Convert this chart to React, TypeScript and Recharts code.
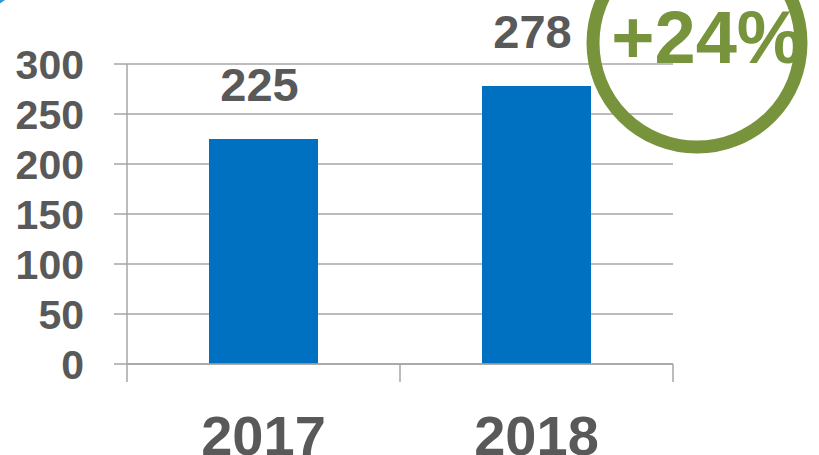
import { BarChart, Bar, XAxis, YAxis, CartesianGrid, LabelList } from "recharts";

const years = ["2017", "2018"];
const values = [225, 278];
const yTicks = [0, 50, 100, 150, 200, 250, 300];
const xTicks = [0, 0.5, 1, 1.5, 2];
const growthLabel = "+24%";

const data = years.map((year, i) => ({ year, value: values[i], pos: i + 0.5 }));

const GRAY_TEXT = "#595959";
const GRID = "#A6A6A6";
const BLUE = "#0070C0";
const GREEN = "#77933C";
const FONT = "'Liberation Sans', Arial, sans-serif";

// ticks at whole numbers are the category edges, half steps carry the year
const XTick = ({ x, y, payload }: any) => {
    const v = payload.value;
    if (Number.isInteger(v)) {
        return <line x1={x} y1={y} x2={x} y2={y + 18} stroke={GRID} strokeWidth={1.5} />;
    }
    return (
        <text
            x={x}
            y={y + 51}
            dy="0.71em"
            textAnchor="middle"
            fill={GRAY_TEXT}
            fontSize={56}
            fontWeight={700}
            fontFamily={FONT}
        >
            {years[Math.floor(v)]}
        </text>
    );
};

export default function App() {
    return (
        <div style={{ position: "absolute", left: 0, top: 0, width: 819, height: 455, background: "#fff", fontFamily: FONT }}>
            <BarChart
                width={819}
                height={455}
                data={data}
                margin={{ top: 64, right: 146, bottom: 0, left: 0 }}
            >
                <CartesianGrid vertical={false} stroke={GRID} strokeWidth={1.5} />
                <XAxis
                    type="number"
                    dataKey="pos"
                    domain={[0, 2]}
                    ticks={xTicks}
                    interval={0}
                    height={91}
                    tickLine={false}
                    tickSize={0}
                    tickMargin={0}
                    axisLine={{ stroke: GRID, strokeWidth: 1.5 }}
                    tick={<XTick />}
                />
                <YAxis
                    domain={[0, 300]}
                    ticks={yTicks}
                    interval={0}
                    width={127}
                    tickSize={13}
                    tickMargin={30}
                    axisLine={{ stroke: GRID, strokeWidth: 1.5 }}
                    tickLine={{ stroke: GRID, strokeWidth: 1.5 }}
                    tick={{ fill: GRAY_TEXT, fontSize: 41, fontWeight: 700, fontFamily: FONT }}
                />
                <Bar dataKey="value" fill={BLUE} barSize={109} isAnimationActive={false}>
                    <LabelList
                        dataKey="value"
                        position="top"
                        offset={38}
                        dx={-4}
                        fill={GRAY_TEXT}
                        fontSize={47}
                        fontWeight={700}
                        fontFamily={FONT}
                    />
                </Bar>
            </BarChart>
            <svg
                width={819}
                height={455}
                style={{ position: "absolute", left: 0, top: 0, pointerEvents: "none" }}
            >
                <circle cx={-22} cy={-36} r={40} fill="none" stroke="#2E9BD8" strokeWidth={10} />
                <circle cx={697} cy={43} r={104} fill="none" stroke={GREEN} strokeWidth={13} />
                <text
                    x={707}
                    y={63}
                    textAnchor="middle"
                    fill={GREEN}
                    fontSize={74}
                    fontWeight={700}
                    fontFamily={FONT}
                >
                    {growthLabel}
                </text>
            </svg>
        </div>
    );
}
